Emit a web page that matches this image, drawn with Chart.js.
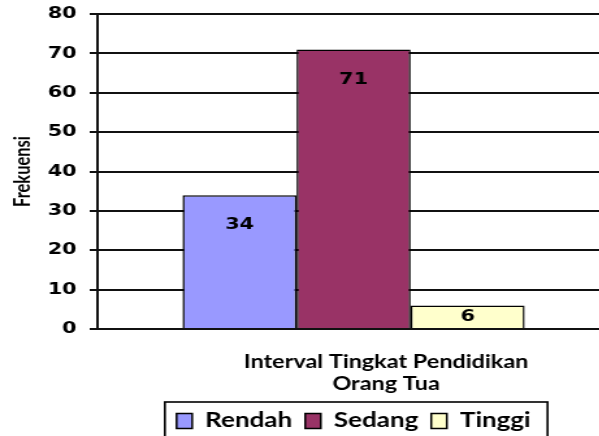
<!DOCTYPE html>
<html>
<head>
<meta charset="utf-8">
<script src="https://cdn.jsdelivr.net/npm/chart.js@4.4.1/dist/chart.umd.min.js"></script>
<style>
  html, body { margin: 0; padding: 0; overflow: hidden; background: #fff; }
  /* the reference is stretched sideways, so draw narrow and widen */
  #wrap { position: relative; width: 469px; height: 441px; transform: scaleX(1.3); transform-origin: 0 0; }
</style>
</head>
<body>
<div id="wrap"><canvas id="chart"></canvas></div>
<script>
  const categories = [''];
  const seriesNames = ['Rendah', 'Sedang', 'Tinggi'];
  const rendahValues = [34];
  const sedangValues = [71];
  const tinggiValues = [6];
  const seriesColors = ['#9999ff', '#993366', '#ffffcc'];
  const yTicks = [0, 10, 20, 30, 40, 50, 60, 70, 80];
  const yTitle = 'Frekuensi';
  const xTitleLines = ['Interval Tingkat Pendidikan', 'Orang Tua'];

  // ------------------------
  // value labels inside the bars
  // ------------------------
  const barLabels = {
    id: 'barLabels',
    afterDatasetsDraw(chart) {
      const ctx = chart.ctx;
      ctx.save();
      ctx.font = 'bold 16px "DejaVu Sans"';
      ctx.fillStyle = '#000';
      ctx.textAlign = 'center';
      ctx.textBaseline = 'middle';
      chart.data.datasets.forEach((ds, i) => {
        chart.getDatasetMeta(i).data.forEach((bar, j) => {
          const y = Math.min(bar.y + 30, (bar.y + bar.base) / 2);
          ctx.fillText(ds.data[j], bar.x, y);
        });
      });
      ctx.restore();
    }
  };

  // ------------------------
  // x title (off centre) + frame round the legend
  // ------------------------
  const extras = {
    id: 'extras',
    afterDraw(chart) {
      const ctx = chart.ctx;
      const area = chart.chartArea;
      const cx = (area.left + area.right) / 2 + 25;
      ctx.save();
      ctx.font = 'bold 18px Lato';
      ctx.fillStyle = '#000';
      ctx.textAlign = 'center';
      ctx.textBaseline = 'alphabetic';
      ctx.fillText(xTitleLines[0], cx, area.bottom + 39);
      ctx.fillText(xTitleLines[1], cx, area.bottom + 61);

      const boxes = chart.legend.legendHitBoxes;
      const first = boxes[0];
      const last = boxes[boxes.length - 1];
      const left = first.left - 9;
      const right = last.left + last.width + 13;
      ctx.strokeStyle = '#000';
      ctx.lineWidth = 1.6;
      ctx.strokeRect(left, first.top - 9, right - left, 80);
      ctx.restore();
    }
  };

  const allValues = [rendahValues, sedangValues, tinggiValues];

  new Chart(document.getElementById('chart'), {
    type: 'bar',
    data: {
      labels: categories,
      datasets: seriesNames.map((name, i) => ({
        label: name,
        data: allValues[i],
        backgroundColor: seriesColors[i],
        borderColor: '#000',
        borderWidth: 1.5,
        barPercentage: 1,
        categoryPercentage: 0.668
      }))
    },
    options: {
      responsive: true,
      maintainAspectRatio: false,
      animation: false,
      layout: { padding: { top: 14, left: 0, right: 0, bottom: 0 } },
      scales: {
        x: {
          grid: { display: false },
          border: { display: false },
          ticks: { display: false },
          afterFit: s => { s.height = 72; }
        },
        y: {
          min: 0,
          max: 80,
          afterBuildTicks: s => { s.ticks = yTicks.map(v => ({ value: v })); },
          afterFit: s => { s.width = 75; s.paddingTop = 0; s.paddingBottom = 0; },
          grid: { color: '#111', lineWidth: 2, tickLength: 6, tickColor: '#111' },
          border: { color: '#111', width: 2 },
          ticks: {
            color: '#000',
            padding: 10,
            font: { family: '"DejaVu Sans"', size: 16, weight: 'bold' }
          },
          title: {
            display: true,
            text: yTitle,
            color: '#000',
            padding: { top: 8, bottom: 0 },
            font: { family: 'Lato', size: 16.5, weight: 'bold' }
          }
        }
      },
      plugins: {
        legend: {
          position: 'bottom',
          fullSize: false,
          onClick: null,
          labels: {
            color: '#000',
            boxWidth: 12,
            boxHeight: 15,
            padding: 10,
            font: { family: 'Lato', size: 20, weight: 'bold' }
          }
        },
        tooltip: { enabled: false }
      }
    },
    plugins: [barLabels, extras]
  });
</script>
</body>
</html>
